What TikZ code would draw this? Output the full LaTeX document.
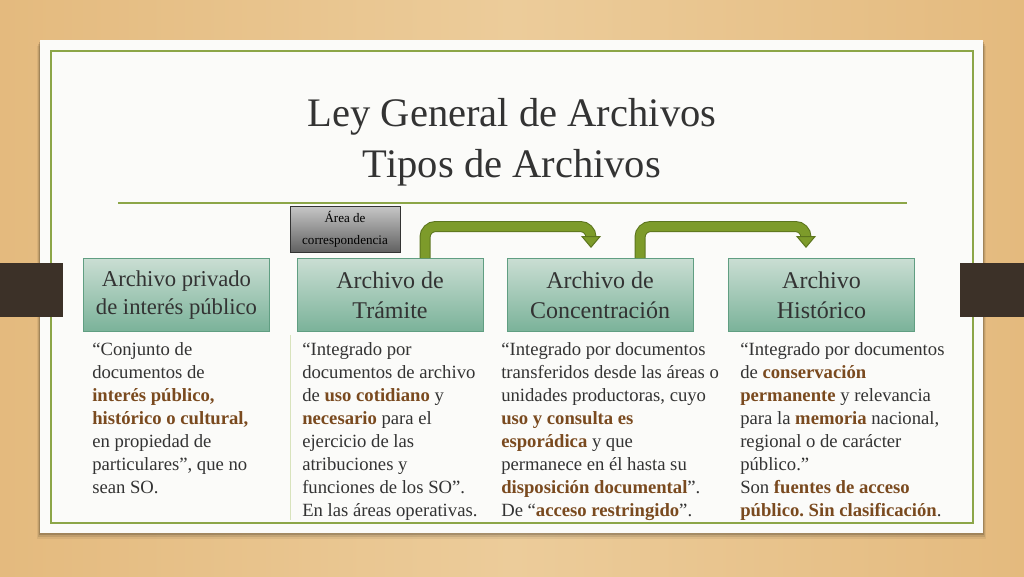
\documentclass[tikz,border=0pt]{standalone}
\usepackage{fontspec}
\setmainfont{Liberation Serif}
\usetikzlibrary{arrows.meta,positioning,shapes}

\definecolor{madera}{RGB}{236,204,154}
\definecolor{maderaosc}{RGB}{228,186,126}
\definecolor{hoja}{RGB}{251,251,249}
\definecolor{marco}{RGB}{140,166,72}
\definecolor{pestana}{RGB}{60,49,40}
\definecolor{texto}{RGB}{51,51,51}
\definecolor{resalte}{RGB}{122,74,31}
\definecolor{cajaarriba}{RGB}{202,222,211}
\definecolor{cajaabajo}{RGB}{122,178,153}
\definecolor{cajaborde}{RGB}{96,158,130}
\definecolor{oliva}{RGB}{125,155,42}
\definecolor{olivaosc}{RGB}{92,117,30}
\definecolor{separa}{RGB}{216,227,188}

\newcommand{\resalta}[1]{\textbf{\color{resalte}#1}}
\frenchspacing

\begin{document}
\begin{tikzpicture}[
            x=0.75pt, y=0.75pt,
            titulo/.style={anchor=base,inner sep=0pt,text=texto,font=\fontsize{30.4}{38}\selectfont},
            caja/.style={draw=cajaborde,line width=0.75pt,top color=cajaarriba,bottom color=cajaabajo,
              minimum width=139.5pt,minimum height=54.75pt,align=center,text=texto,inner sep=1pt,
              font=\fontsize{18}{22.5}\selectfont},
            cajap/.style={caja,font=\fontsize{17}{21.5}\selectfont},
            area/.style={draw=black!80,line width=0.75pt,top color=black!22,bottom color=black!62,
              minimum width=82.5pt,minimum height=34.5pt,align=center,inner sep=0pt,
              font=\fontsize{9.8}{16.5}\selectfont},
            cuerpo/.style={anchor=north west,align=left,inner sep=0pt,text=texto,
              font=\fontsize{14}{17.25}\selectfont},
            flecha/.style={draw=olivaosc,double=oliva,double distance=6.75pt,line width=0.75pt,
              rounded corners=8pt,
              -{Triangle[width=15pt,length=9pt,color=olivaosc,fill=oliva,line width=0.75pt]}}
          ]
          \useasboundingbox (0,0) rectangle (1024,576);

          %fondo y hoja
          \shade[left color=maderaosc,right color=madera] (0,0) rectangle (512,576);
          \shade[left color=madera,right color=maderaosc] (512,0) rectangle (1024,576);
          \foreach \s/\o in {6/0.06,4/0.10,2/0.16}
            \fill[black,opacity=\o] (40-\s/2,43-\s) rectangle (983+\s/2,536-\s);
          \fill[hoja] (40,43) rectangle (983,536);
          \draw[marco,line width=1.5pt] (51,53) rectangle (973,525);
          \fill[pestana] (0,259) rectangle (63,313);
          \fill[pestana] (960,259) rectangle (1024,313);

          %titulo
          \node[titulo] (titulo1) at (512,450) {Ley General de Archivos};
          \node[titulo] (titulo2) at (512,399) {Tipos de Archivos};
          \draw[marco,line width=1.1pt] (118,373) -- (907,373);

          %tipos de archivo
          \node[cajap] (privado) at (176.5,281) {Archivo privado\\de interés público};
          \node[caja] (tramite) at (390,281) {Archivo de\\Trámite};
          \node[caja] (concentra) at (600,281) {Archivo de\\Concentración};
          \node[caja] (historico) at (821.5,281) {Archivo\\Histórico};
          \node[area] (correspondencia) at (345,347) {Área de\\correspondencia};

          %transferencias
          \draw[flecha] ([shift={(35,0)}]tramite.north) -- ++(0,31.5)
            -| ([shift={(-9,10)}]concentra.north);
          \draw[flecha] ([shift={(40,0)}]concentra.north) -- ++(0,31.5)
            -| ([shift={(-15.5,10)}]historico.north);

          %descripciones
          \draw[separa,line width=0.75pt] (290,241) -- (290,56);
          \node[cuerpo] (defprivado) at (92,234) {“Conjunto de\\documentos de\\
            \resalta{interés público,}\\\resalta{histórico o cultural,}\\
            en propiedad de\\particulares”, que no\\sean SO.};
          \node[cuerpo] (deftramite) at (302,234) {“Integrado por\\documentos de archivo\\
            de \resalta{uso cotidiano} y\\\resalta{necesario} para el\\ejercicio de las\\
            atribuciones y\\funciones de los SO”.\\En las áreas operativas.};
          \node[cuerpo] (defconcentra) at (501,234) {“Integrado por documentos\\
            transferidos desde las áreas o\\unidades productoras, cuyo\\
            \resalta{uso y consulta es}\\\resalta{esporádica} y que\\permanece en él hasta su\\
            \resalta{disposición documental}”.\\De “\resalta{acceso restringido}”.};
          \node[cuerpo] (defhistorico) at (740,234) {“Integrado por documentos\\
            de \resalta{conservación}\\\resalta{permanente} y relevancia\\
            para la \resalta{memoria} nacional,\\regional o de carácter\\público.”\\
            Son \resalta{fuentes de acceso}\\\resalta{público. Sin clasificación}.};
      \end{tikzpicture}
\end{document}
